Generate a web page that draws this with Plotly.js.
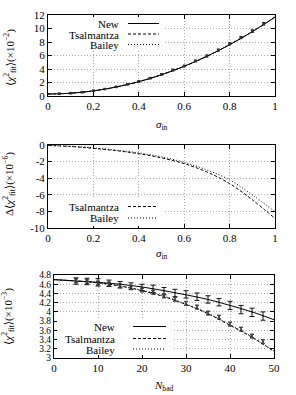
<!DOCTYPE html>
<html><head><meta charset="utf-8">
<script src="https://cdn.plot.ly/plotly-3.0.1.min.js"></script>
<style>html,body{margin:0;padding:0;background:#fff}#c{width:296px;height:395px}</style>
</head><body><div id="c"></div>
<script>
// ---- Panel 1 data ----
const sigLine = [0,0.05,0.1,0.15,0.2,0.25,0.3,0.35,0.4,0.45,0.5,0.55,0.6,0.65,0.7,0.75,0.8,0.85,0.9,0.95,1.0];
const newLine1 = [0.30,0.33,0.41,0.56,0.76,1.01,1.33,1.70,2.12,2.61,3.15,3.75,4.40,5.12,5.89,6.71,7.60,8.54,9.53,10.59,11.70];
const tsaLine1 = [0.30,0.33,0.41,0.56,0.76,1.01,1.33,1.70,2.12,2.61,3.15,3.75,4.40,5.12,5.89,6.71,7.60,8.54,9.53,10.59,11.70];
const baiLine1 = [0.30,0.33,0.41,0.56,0.76,1.01,1.33,1.70,2.12,2.61,3.15,3.75,4.40,5.12,5.89,6.71,7.60,8.54,9.53,10.59,11.70];
const sigPts = [0.05,0.1,0.15,0.2,0.25,0.3,0.35,0.4,0.45,0.5,0.55,0.6,0.65,0.7,0.75,0.8,0.85,0.9,0.95];
const pts1 = [0.33,0.42,0.57,0.78,1.03,1.35,1.73,2.15,2.65,3.2,3.85,4.44,5.19,5.93,6.8,7.72,8.65,9.62,10.7];
const err1 = [0.08,0.08,0.08,0.08,0.08,0.08,0.08,0.1,0.1,0.1,0.12,0.12,0.12,0.15,0.15,0.15,0.15,0.18,0.18];

// ---- Panel 2 data ----
const sig2 = [0,0.1,0.2,0.3,0.4,0.5,0.6,0.7,0.8,0.9,1.0];
const tsaDelta = [-0.05,-0.18,-0.4,-0.68,-1.05,-1.55,-2.25,-3.25,-4.65,-6.6,-8.85];
const baiDelta = [-0.05,-0.15,-0.35,-0.62,-0.95,-1.42,-2.1,-3.0,-4.2,-6.0,-8.05];

// ---- Panel 3 data ----
const nLine = [0,5,10,15,20,25,30,35,40,45,50];
const newLine3 = [4.70,4.67,4.64,4.60,4.54,4.46,4.37,4.27,4.14,4.00,3.83];
const tsaLine3 = [4.70,4.67,4.63,4.56,4.46,4.33,4.16,3.96,3.71,3.45,3.14];
const baiLine3 = [4.70,4.67,4.635,4.565,4.47,4.34,4.17,3.97,3.72,3.46,3.15];
const nPts = [5,7.5,10,12.5,15,17.5,20,22.5,25,27.5,30,32.5,35,37.5,40,42.5,45,47.5];
const newPts3 = [4.67,4.66,4.64,4.62,4.59,4.56,4.53,4.50,4.45,4.41,4.38,4.33,4.27,4.21,4.14,4.05,3.99,3.91];
const newErr3 = [0.07,0.07,0.08,0.07,0.07,0.07,0.07,0.08,0.08,0.08,0.08,0.08,0.08,0.08,0.09,0.09,0.09,0.09];
const tsaPts3 = [4.67,4.65,4.62,4.60,4.56,4.52,4.47,4.42,4.34,4.27,4.18,4.10,3.97,3.88,3.73,3.62,3.47,3.35];
const baiPts3 = [4.68,4.66,4.63,4.61,4.57,4.53,4.48,4.43,4.35,4.28,4.19,4.11,3.98,3.89,3.74,3.63,3.48,3.36];
const ptsErr3 = [0.04,0.04,0.04,0.04,0.04,0.04,0.04,0.04,0.04,0.04,0.04,0.04,0.04,0.04,0.04,0.04,0.04,0.04];

const W = 296, H = 395;
const px = v => v / W, py = v => 1 - v / H;
const FONT = 'Liberation Serif, DejaVu Serif, serif';
const DASH = '3px,2px', DOT = '1px,2px';

const traces = [
  {x: sigLine, y: newLine1, mode: 'lines', line: {color: '#000', width: 1, shape: 'spline'}, xaxis: 'x', yaxis: 'y'},
  {x: sigLine, y: tsaLine1, mode: 'lines', line: {color: '#000', width: 1, dash: DASH, shape: 'spline'}, xaxis: 'x', yaxis: 'y'},
  {x: sigLine, y: baiLine1, mode: 'lines', line: {color: '#000', width: 1, dash: DOT, shape: 'spline'}, xaxis: 'x', yaxis: 'y'},
  {x: sigPts, y: pts1, mode: 'markers', marker: {color: '#333', size: 2.5, symbol: 'square'},
   error_y: {type: 'data', array: err1, color: '#000', thickness: 1, width: 1.5}, xaxis: 'x', yaxis: 'y'},

  {x: sig2, y: tsaDelta, mode: 'lines', line: {color: '#000', width: 1, dash: DASH, shape: 'spline'}, xaxis: 'x2', yaxis: 'y2'},
  {x: sig2, y: baiDelta, mode: 'lines', line: {color: '#000', width: 1, dash: DOT, shape: 'spline'}, xaxis: 'x2', yaxis: 'y2'},

  {x: nLine, y: newLine3, mode: 'lines', line: {color: '#000', width: 1, shape: 'spline'}, xaxis: 'x3', yaxis: 'y3'},
  {x: nLine, y: tsaLine3, mode: 'lines', line: {color: '#000', width: 1, dash: DASH, shape: 'spline'}, xaxis: 'x3', yaxis: 'y3'},
  {x: nLine, y: baiLine3, mode: 'lines', line: {color: '#000', width: 1, dash: DOT, shape: 'spline'}, xaxis: 'x3', yaxis: 'y3'},
  {x: nPts, y: newPts3, mode: 'markers', marker: {color: '#000', size: 1},
   error_y: {type: 'data', array: newErr3, color: '#111', thickness: 1, width: 2.5}, xaxis: 'x3', yaxis: 'y3'},
  {x: nPts, y: tsaPts3, mode: 'markers', marker: {color: '#444', size: 1.5},
   error_y: {type: 'data', array: ptsErr3, color: '#333', thickness: 0.8, width: 2}, xaxis: 'x3', yaxis: 'y3'},
  {x: nPts, y: baiPts3, mode: 'markers', marker: {color: '#444', size: 1.5},
   error_y: {type: 'data', array: ptsErr3, color: '#333', thickness: 0.8, width: 2}, xaxis: 'x3', yaxis: 'y3'}
];

const axBase = {showline: true, linecolor: '#000', linewidth: 1, mirror: 'ticks', ticks: 'inside', ticklen: 4,
  tickcolor: '#000', showgrid: true, gridcolor: '#aaaaaa', griddash: '1px,2px', gridwidth: 1, zeroline: false,
  tickfont: {family: FONT, size: 11, color: '#000'}, fixedrange: true};

const xTop = [px(48), px(275)];
const layout = {
  width: W, height: H, margin: {l: 0, r: 0, t: 0, b: 0}, showlegend: false,
  paper_bgcolor: '#fff', plot_bgcolor: '#fff', font: {family: FONT, color: '#000'},
  xaxis: Object.assign({}, axBase, {domain: xTop, range: [0, 1], tickvals: [0,0.2,0.4,0.6,0.8,1], ticktext: ['0','0.2','0.4','0.6','0.8','1'], anchor: 'y'}),
  yaxis: Object.assign({}, axBase, {domain: [py(96), py(15)], range: [0, 12], tickvals: [0,2,4,6,8,10,12], anchor: 'x'}),
  xaxis2: Object.assign({}, axBase, {domain: xTop, range: [0, 1], tickvals: [0,0.2,0.4,0.6,0.8,1], ticktext: ['0','0.2','0.4','0.6','0.8','1'], anchor: 'y2'}),
  yaxis2: Object.assign({}, axBase, {domain: [py(228), py(145)], range: [-10, 0], tickvals: [-10,-8,-6,-4,-2,0], ticktext: ['-10','-8','-6','-4','-2','0'], anchor: 'x2'}),
  xaxis3: Object.assign({}, axBase, {domain: [px(54), px(274)], range: [0, 50], tickvals: [0,10,20,30,40,50], anchor: 'y3'}),
  yaxis3: Object.assign({}, axBase, {domain: [py(358), py(275)], range: [3, 4.8], tickvals: [3,3.2,3.4,3.6,3.8,4,4.2,4.4,4.6,4.8], ticktext: ['3','3.2','3.4','3.6','3.8','4','4.2','4.4','4.6','4.8'], anchor: 'x3', tickfont: {family: FONT, size: 9.5, color: '#000'}}),
  shapes: [],
  annotations: []
};

// legend boxes (white, hide grid)
function box(x0, y0, x1, y1) {
  layout.shapes.push({type: 'rect', xref: 'paper', yref: 'paper', x0: px(x0), x1: px(x1), y0: py(y1), y1: py(y0),
    fillcolor: '#fff', line: {width: 0}, layer: 'above'});
}
function entry(text, xr, lx0, lx1, y, dash) {
  layout.annotations.push({xref: 'paper', yref: 'paper', x: px(xr), y: py(y), xanchor: 'right', yanchor: 'middle',
    text: text, showarrow: false, font: {family: FONT, size: 11, color: '#000'}});
  layout.shapes.push({type: 'line', xref: 'paper', yref: 'paper', x0: px(lx0), x1: px(lx1), y0: py(y) + 0.5 / H, y1: py(y) + 0.5 / H,
    line: {color: '#000', width: 1, dash: dash || 'solid'}, layer: 'above'});
}
box(52, 17, 163, 51);
entry('New', 121, 128, 159, 24, 'solid');
entry('Tsalmantza', 121, 128, 159, 34.5, DASH);
entry('Bailey', 121, 128, 159, 45, DOT);

box(52, 199, 163, 226);
entry('Tsalmantza', 121, 128, 158, 207, DASH);
entry('Bailey', 121, 128, 158, 218.5, DOT);

box(57, 320, 172, 355);
entry('New', 117, 133, 166, 327, 'solid');
entry('Tsalmantza', 117, 133, 166, 339, DASH);
entry('Bailey', 117, 133, 166, 349.5, DOT);

// axis titles
function ann(text, x, y, angle) {
  layout.annotations.push({xref: 'paper', yref: 'paper', x: px(x), y: py(y), xanchor: 'center', yanchor: 'middle',
    text: text, textangle: angle || 0, showarrow: false, font: {family: FONT, size: 11, color: '#000'}});
}
ann('<i>σ</i><sub>in</sub>', 162, 125);
ann('<i>σ</i><sub>in</sub>', 162, 254);
ann('<i>N</i><sub>bad</sub>', 164, 386);
ann('⟨<i>χ</i><sup>2</sup><sub>fit</sub>⟩(×10<sup>−2</sup>)', 10, 58, -90);
ann('Δ⟨<i>χ</i><sup>2</sup><sub>fit</sub>⟩(×10<sup>−6</sup>)', 9, 184, -90);
ann('⟨<i>χ</i><sup>2</sup><sub>fit</sub>⟩(×10<sup>−3</sup>)', 8, 317, -90);

Plotly.newPlot('c', traces, layout, {staticPlot: true, displayModeBar: false});
</script></body></html>
